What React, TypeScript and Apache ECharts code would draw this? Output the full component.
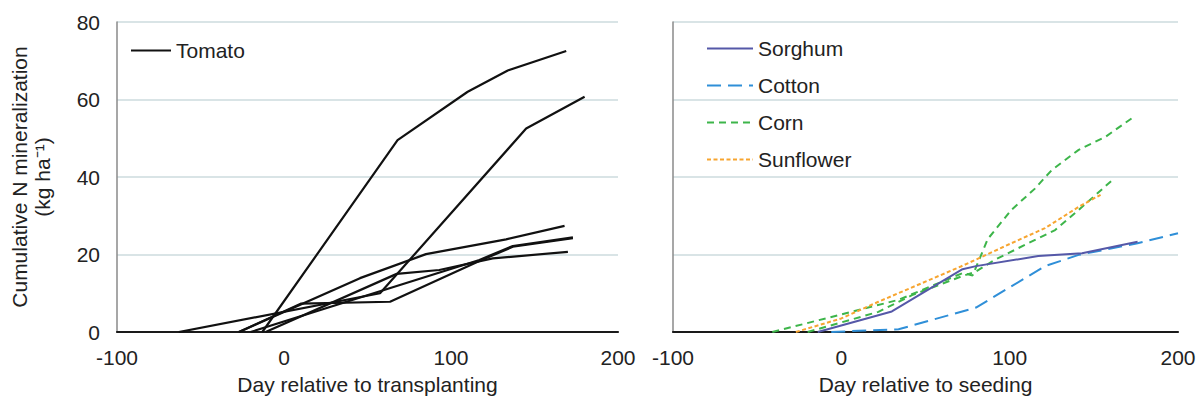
import React, { useEffect, useRef } from "react";
import * as echarts from "echarts";

// ---- Data (day, cumulative N mineralization kg/ha) ----
const tomato1 = [[-13, 0], [68, 49.5], [110, 62], [134, 67.5], [169, 72.5]];
const tomato2 = [[-63, 0], [57.5, 10], [145, 52.5], [180, 60.7]];
const tomato3 = [[-27, 0], [45.5, 13.9], [85, 20.1], [133, 23.9], [168, 27.4]];
const tomato4 = [[-11, 0], [67.5, 15], [93, 16], [125, 19], [170, 20.7]];
const tomato5 = [[-27, 0], [10, 7.3], [63.5, 7.8], [117, 18.3], [137, 22], [173, 24.2]];
const tomato6 = [[-20, 0], [117, 18.6], [137, 22.2], [173, 24.4]];

const sorghum = [[-14, 0], [30, 5.3], [72, 16.2], [80, 17], [117, 19.6], [143, 20.3], [176, 23.3]];
const cotton = [[-6, 0], [10, 0.3], [34, 0.7], [80, 6.3], [121, 17], [141, 19.9], [176, 22.9], [200, 25.5]];
const corn1 = [[-41, 0], [34, 8.3], [72, 15.2], [78, 14.6], [87, 24], [101, 31.5], [115, 37], [125, 41.8], [141, 47], [157, 50.4], [174, 55.6]];
const corn2 = [[-20, 0], [22, 5.2], [42, 9.5], [71, 14.3], [80, 15.6], [91, 18.6], [111, 22.9], [127, 26.3], [141, 31.5], [161, 39.2]];
const sunflower = [[-27, 0], [0, 3.5], [22, 7.8], [71, 16.9], [101, 22.9], [121, 26.8], [141, 32.3], [154, 35.4]];

const xTicks = { min: -100, max: 200, interval: 100 };
const yTicks = { min: 0, max: 80, interval: 20 };

const leftNames = ["Tomato"];
const rightNames = ["Sorghum", "Cotton", "Corn", "Sunflower"];

const COLORS = {
  tomato: "#111111",
  sorghum: "#5558a8",
  cotton: "#2f8fd8",
  corn: "#3db54a",
  sunflower: "#f7a530",
};

const FONT = "Liberation Sans, Arial, sans-serif";
const TEXT = "#222222";
const FS = 21;

export default function App() {
  const ref = useRef<HTMLDivElement>(null);

  useEffect(() => {
    if (!ref.current) return;
    const chart = echarts.init(ref.current, null, { renderer: "svg" });

    const xAxisBase = (gridIndex: number, name: string) => ({
      type: "value",
      gridIndex,
      min: xTicks.min,
      max: xTicks.max,
      interval: xTicks.interval,
      name,
      nameLocation: "middle",
      nameGap: 42,
      nameTextStyle: { fontSize: FS, color: TEXT, fontFamily: FONT },
      axisLine: { show: true, onZero: false, lineStyle: { color: "#1a1a1a", width: 2.2 } },
      axisTick: { show: false },
      axisLabel: { fontSize: FS, color: TEXT, fontFamily: FONT, margin: 15 },
      splitLine: { show: false },
    });

    const yAxisBase = (gridIndex: number, showLabels: boolean) => ({
      type: "value",
      gridIndex,
      min: yTicks.min,
      max: yTicks.max,
      interval: yTicks.interval,
      axisLine: { show: true, onZero: false, lineStyle: { color: "#8a8a8a", width: 1.5 } },
      axisTick: { show: false },
      axisLabel: { show: showLabels, fontSize: FS, color: TEXT, fontFamily: FONT, margin: 17 },
      splitLine: { show: true, lineStyle: { color: "#cddbde", width: 1.5 } },
    });

    const tomatoSeries = [tomato1, tomato2, tomato3, tomato4, tomato5, tomato6].map((d) => ({
      name: "Tomato",
      type: "line",
      xAxisIndex: 0,
      yAxisIndex: 0,
      data: d,
      symbol: "none",
      lineStyle: { color: COLORS.tomato, width: 2.2 },
      itemStyle: { color: COLORS.tomato },
    }));

    const rightSeries = [
      { name: "Cotton", data: cotton, color: COLORS.cotton, dash: [14, 7] },
      { name: "Corn", data: corn1, color: COLORS.corn, dash: [7, 5] },
      { name: "Corn", data: corn2, color: COLORS.corn, dash: [7, 5] },
      { name: "Sunflower", data: sunflower, color: COLORS.sunflower, dash: [4, 2.5] },
      { name: "Sorghum", data: sorghum, color: COLORS.sorghum, dash: "solid" },
    ].map((s) => ({
      name: s.name,
      type: "line",
      xAxisIndex: 1,
      yAxisIndex: 1,
      data: s.data,
      symbol: "none",
      lineStyle: { color: s.color, width: 2, type: s.dash },
      itemStyle: { color: s.color },
    }));

    chart.setOption({
      animation: false,
      backgroundColor: "#ffffff",
      textStyle: { fontFamily: FONT },
      grid: [
        { left: 117, top: 22, width: 501, height: 310, containLabel: false },
        { left: 673, top: 22, width: 505, height: 310, containLabel: false },
      ],
      xAxis: [
        xAxisBase(0, "Day relative to transplanting"),
        xAxisBase(1, "Day relative to seeding"),
      ],
      yAxis: [yAxisBase(0, true), yAxisBase(1, false)],
      legend: [
        {
          data: leftNames,
          left: 130,
          top: 40,
          padding: 0,
          orient: "vertical",
          itemWidth: 40,
          itemHeight: 14,
          itemGap: 10,
          itemStyle: { opacity: 0 },
          textStyle: { fontSize: FS, color: TEXT, fontFamily: FONT },
        },
        {
          data: rightNames,
          left: 706,
          top: 38,
          padding: 0,
          orient: "vertical",
          itemWidth: 46,
          itemHeight: 14,
          itemGap: 16,
          itemStyle: { opacity: 0 },
          textStyle: { fontSize: FS, color: TEXT, fontFamily: FONT },
        },
      ],
      graphic: [
        {
          type: "text",
          x: 31,
          y: 177,
          rotation: Math.PI / 2,
          style: {
            text: "Cumulative N mineralization\n(kg ha\u207B\u00B9)",
            fontSize: FS,
            lineHeight: 23,
            fill: TEXT,
            fontFamily: FONT,
            align: "center",
            verticalAlign: "middle",
          },
        },
      ],
      series: [...tomatoSeries, ...rightSeries],
    });

    return () => chart.dispose();
  }, []);

  return (
    <div
      ref={ref}
      style={{ position: "fixed", left: 0, top: 0, width: 1199, height: 402, background: "#fff" }}
    />
  );
}
